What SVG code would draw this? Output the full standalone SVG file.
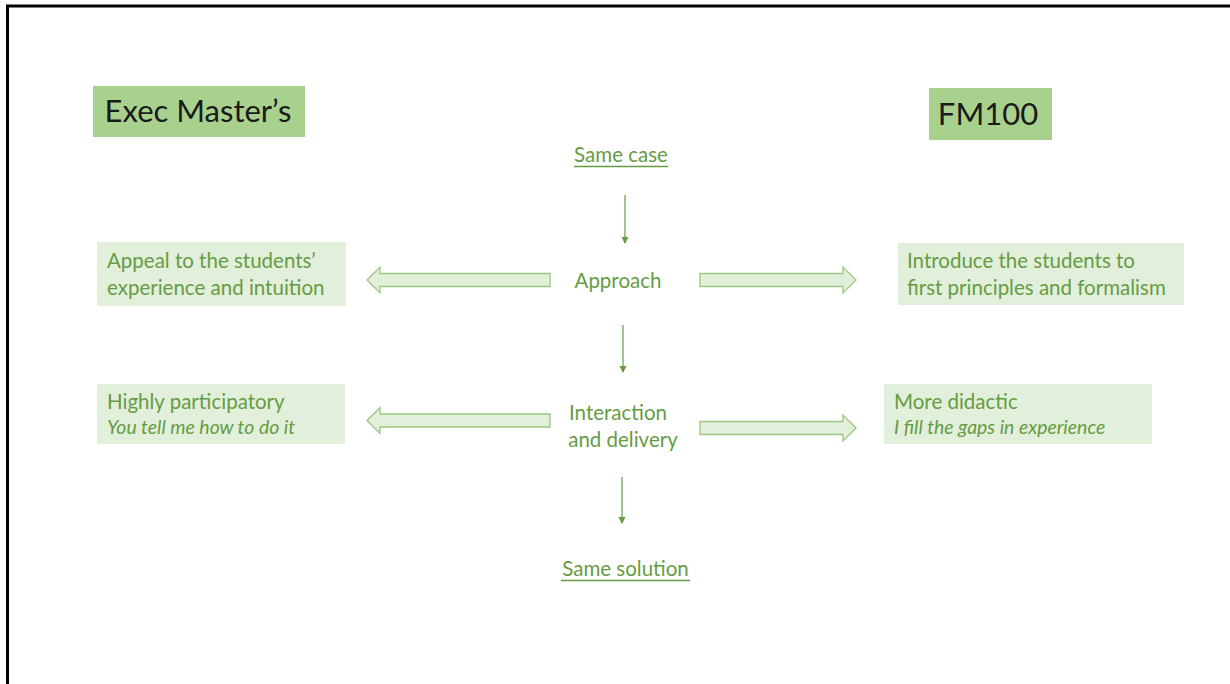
<svg xmlns="http://www.w3.org/2000/svg" width="1230" height="684" viewBox="0 0 1230 684">
<style>
.title{font-family:Lato,"Liberation Sans",sans-serif;font-size:31px;fill:#1a1a1a}
.t{font-family:Lato,"Liberation Sans",sans-serif;font-size:20.5px;fill:#659c44}
.it{font-style:italic;font-size:19.4px}
.hb{fill:#a9d18e}
.lb{fill:#e2efda}
.blk{fill:#e2efda;stroke:#9cc681;stroke-width:1.3}
.ln{stroke:#659c44;stroke-width:1.2;fill:none}
.ul{stroke:#659c44;stroke-width:1.5}
</style>
<defs>
<marker id="ah" markerWidth="8" markerHeight="8" refX="6" refY="4" orient="auto" markerUnits="userSpaceOnUse">
<path d="M0,0.5 L7,4 L0,7.5 Z" fill="#659c44"/>
</marker>
</defs>
<rect width="1230" height="684" fill="#fff"/>
<path d="M7.5,684 V6 H1230" fill="none" stroke="#000" stroke-width="3"/>

<g id="exec">
<rect class="hb" x="93" y="86" width="212" height="51"/>
<text class="title" x="198" y="122" text-anchor="middle">Exec Master’s</text>
</g>
<g id="fm100">
<rect class="hb" x="929" y="88" width="123" height="52"/>
<text class="title" x="988" y="125" text-anchor="middle">FM100</text>
</g>
<g id="samecase">
<text class="t" x="621" y="162" text-anchor="middle">Same case</text>
<line class="ul" x1="574" y1="166.5" x2="668" y2="166.5"/>
</g>
<g id="approach">
<text class="t" x="618" y="288" text-anchor="middle">Approach</text>
</g>
<g id="interaction">
<text class="t" x="618" y="420" text-anchor="middle">Interaction</text>
<text class="t" x="623" y="447" text-anchor="middle">and delivery</text>
</g>
<g id="samesolution">
<text class="t" x="625.5" y="576" text-anchor="middle">Same solution</text>
<line class="ul" x1="561" y1="580.5" x2="690" y2="580.5"/>
</g>
<g id="appeal">
<rect class="lb" x="97" y="242" width="249" height="64"/>
<text class="t" x="107" y="268">Appeal to the students’</text>
<text class="t" x="107" y="295">experience and intuition</text>
</g>
<g id="introduce">
<rect class="lb" x="898" y="243" width="286" height="62"/>
<text class="t" x="907" y="268">Introduce the students to</text>
<text class="t" x="907" y="295">first principles and formalism</text>
</g>
<g id="highly">
<rect class="lb" x="97" y="384" width="248" height="60"/>
<text class="t" x="107" y="409">Highly participatory</text>
<text class="t it" x="107" y="434">You tell me how to do it</text>
</g>
<g id="didactic">
<rect class="lb" x="884" y="384" width="268" height="60"/>
<text class="t" x="894" y="409">More didactic</text>
<text class="t it" x="894" y="434">I fill the gaps in experience</text>
</g>

<g id="connectors">
<line class="ln" x1="625" y1="195" x2="625" y2="243" marker-end="url(#ah)"/>
<line class="ln" x1="623" y1="325" x2="623" y2="372" marker-end="url(#ah)"/>
<line class="ln" x1="622" y1="477" x2="622" y2="523" marker-end="url(#ah)"/>
<path class="blk" d="M550,273.5 H380 V267 L367,280 L380,293 V286.5 H550 Z"/>
<path class="blk" d="M700,273.5 H843 V267 L856,280 L843,293 V286.5 H700 Z"/>
<path class="blk" d="M550,414 H380 V407.5 L367,420.5 L380,433.5 V427 H550 Z"/>
<path class="blk" d="M700,421.5 H843 V415 L856,428 L843,441 V434.5 H700 Z"/>
</g>
</svg>
